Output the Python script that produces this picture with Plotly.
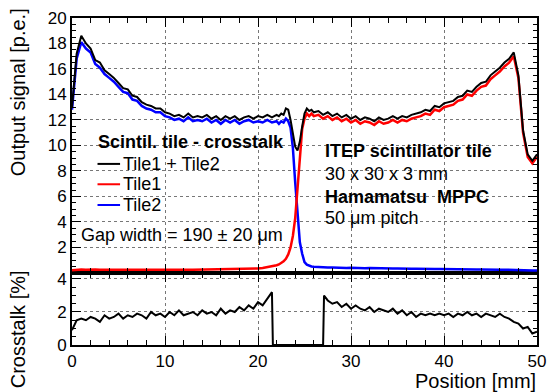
import numpy as np
import plotly.graph_objects as go

# ---------------- data ----------------
position = np.concatenate([np.arange(0, 22.01, 0.5),
                           np.arange(22.25, 26.01, 0.25),
                           np.arange(26.5, 50.01, 0.5)])

tile_sum = [13.0, 17.2, 18.6, 18.0, 17.6, 16.7, 16.5, 15.9, 15.6, 15.3, 14.9, 14.5, 14.4, 13.9,
            13.8, 13.4, 13.2, 13.1, 12.9, 12.9, 12.6, 12.5, 12.3, 12.4, 12.2, 12.5, 12.2, 12.3,
            12.2, 12.4, 12.1, 12.3, 12.0, 12.3, 12.1, 12.3, 12.0, 12.2, 12.3, 12.1, 12.3, 12.2,
            12.4, 12.2, 12.4,
            12.3, 12.5, 12.4, 12.9, 12.8, 12.0, 10.9, 9.9, 9.6, 10.3, 11.5, 12.5, 12.9, 12.7,
            12.8, 12.6,
            12.7, 12.4, 12.6, 12.3, 12.5, 12.2, 12.4, 12.1, 12.3, 12.0,
            12.2, 12.1, 11.9, 12.2, 12.0, 12.1, 12.3, 12.1, 12.3, 12.2,
            12.4, 12.5, 12.6, 12.8, 12.7, 13.1, 13.0, 13.3, 13.4, 13.5,
            13.8, 13.9, 14.3, 14.2, 14.6, 14.9, 15.0, 15.5, 15.8, 16.1,
            16.5, 16.8, 17.3, 15.5, 11.2, 9.3, 8.8, 9.3]

tile1 = [0.20, 0.24, 0.26, 0.25, 0.27, 0.26, 0.25, 0.26, 0.25, 0.24, 0.25, 0.24, 0.25, 0.24,
         0.25, 0.23, 0.24, 0.25, 0.24, 0.25, 0.24, 0.25, 0.24, 0.25, 0.24, 0.25, 0.24, 0.25,
         0.25, 0.26, 0.25, 0.26, 0.27, 0.26, 0.28, 0.27, 0.29, 0.30, 0.31, 0.33, 0.35, 0.39,
         0.44, 0.52, 0.60,
         0.66, 0.75, 0.90, 1.10, 1.45, 2.0, 2.9, 4.3, 6.6, 9.3, 11.3, 12.1, 12.5, 12.3,
         12.5, 12.3,
         12.4, 12.1, 12.3, 12.0, 12.2, 11.9, 12.1, 11.8, 12.0, 11.7,
         11.9, 11.8, 11.6, 11.9, 11.7, 11.8, 12.0, 11.8, 12.0, 11.9,
         12.1, 12.2, 12.3, 12.5, 12.4, 12.8, 12.7, 13.0, 13.1, 13.2,
         13.5, 13.6, 14.0, 13.9, 14.3, 14.6, 14.7, 15.2, 15.5, 15.8,
         16.2, 16.5, 17.0, 15.3, 11.0, 9.1, 8.6, 9.1]

tile2 = [12.8, 16.8, 18.1, 17.6, 17.3, 16.4, 16.1, 15.6, 15.3, 15.0, 14.6, 14.2, 14.1, 13.6,
         13.5, 13.1, 12.9, 12.8, 12.6, 12.6, 12.3, 12.2, 12.0, 12.1, 11.9, 12.2, 11.9, 12.0,
         11.9, 12.1, 11.8, 12.0, 11.7, 12.0, 11.8, 12.0, 11.7, 11.9, 12.0, 11.8, 11.9, 11.8,
         12.0, 11.8, 11.9,
         11.7, 11.9, 11.8, 12.1, 11.9, 11.4, 9.8, 7.1, 4.5, 2.4, 1.5, 0.85, 0.65, 0.55,
         0.50, 0.48,
         0.45, 0.44, 0.42, 0.43, 0.40, 0.41, 0.39, 0.40, 0.38, 0.39,
         0.37, 0.38, 0.36, 0.37, 0.35, 0.36, 0.34, 0.35, 0.33, 0.34,
         0.32, 0.33, 0.31, 0.32, 0.30, 0.31, 0.30, 0.29, 0.30, 0.28,
         0.29, 0.27, 0.28, 0.27, 0.26, 0.27, 0.25, 0.26, 0.25, 0.24,
         0.25, 0.23, 0.24, 0.22, 0.21, 0.20, 0.19, 0.18]

ct_position = np.concatenate([np.arange(0, 21.51, 0.5),
                              [21.6, 27.0, 27.1],
                              np.arange(27.5, 50.01, 0.5)])
crosstalk = [0.9, 1.5, 1.6, 1.5, 1.7, 1.6, 1.4, 1.8, 1.6, 1.7,
             1.9, 1.6, 1.8, 1.7, 1.9, 1.8, 1.6, 2.0, 1.8, 1.9,
             1.7, 2.0, 1.8, 2.1, 1.8, 1.9, 2.0, 1.8, 2.1, 1.9,
             2.0, 1.8, 2.2, 1.9, 2.1, 2.0, 2.3, 2.1, 2.4, 2.2,
             2.6, 2.4, 2.8, 3.2,
             0.0, 0.0, 3.0,
             2.7, 2.5, 2.6, 2.3, 2.5, 2.2, 2.4, 2.2, 2.1, 2.3,
             2.0, 2.2, 2.1, 2.0, 2.2, 1.9, 2.1, 1.8, 2.0, 1.7,
             1.9, 1.8, 1.9, 1.8, 1.9, 1.8, 1.9, 1.7, 1.9, 1.8,
             2.0, 1.8, 1.9, 1.7, 1.9, 1.8, 1.7, 1.9, 1.7, 1.6,
             1.4, 1.3, 1.0, 1.1, 0.7, 0.8]

x_ticks = [0, 10, 20, 30, 40, 50]
y_top_ticks = [2, 4, 6, 8, 10, 12, 14, 16, 18, 20]
y_bot_ticks = [0, 2, 4]

assert len(position) == len(tile_sum) == len(tile1) == len(tile2)
assert len(ct_position) == len(crosstalk)

# ---------------- figure ----------------
FONT = "Liberation Sans, Arial, Helvetica, sans-serif"
W, H = 555, 392
ML, MR, MT, MB = 72, 9, 14, 47
PW, PH = W - ML - MR, H - MT - MB
split = (345 - 272) / PH


def px(xp):
    return (xp - ML) / PW


def py(yp):
    return (H - MB - yp) / PH


fig = go.Figure()
fig.add_trace(go.Scatter(x=position, y=tile2, mode="lines", name="Tile2",
                         line=dict(color="#0000ff", width=2.5), xaxis="x2", yaxis="y2"))
fig.add_trace(go.Scatter(x=position, y=tile1, mode="lines", name="Tile1",
                         line=dict(color="#ff0000", width=2.5), xaxis="x2", yaxis="y2"))
fig.add_trace(go.Scatter(x=position, y=tile_sum, mode="lines", name="Tile1 + Tile2",
                         line=dict(color="#000000", width=2), xaxis="x2", yaxis="y2"))
fig.add_trace(go.Scatter(x=ct_position, y=crosstalk, mode="lines", name="Crosstalk",
                         line=dict(color="#000000", width=2), xaxis="x", yaxis="y"))

common = dict(showline=True, linewidth=2, linecolor="black", mirror="allticks",
              ticks="inside", ticklen=9, tickwidth=1, tickcolor="black",
              showgrid=True, gridcolor="#777777", griddash="dot", gridwidth=1,
              zeroline=False, tickfont=dict(family=FONT, size=17, color="black"))

fig.update_layout(
    width=W, height=H, autosize=False,
    margin=dict(l=ML, r=MR, t=MT, b=MB),
    paper_bgcolor="white", plot_bgcolor="white",
    showlegend=False,
    font=dict(family=FONT, color="black"),
    xaxis=dict(domain=[0, 1], anchor="y", range=[0, 50], tickvals=x_ticks,
               minor=dict(dtick=2, tick0=0, ticklen=5, ticks="inside", tickcolor="black", showgrid=False),
               **common),
    xaxis2=dict(domain=[0, 1], anchor="y2", range=[0, 50], matches="x", tickvals=x_ticks,
                showticklabels=False,
                minor=dict(dtick=2, tick0=0, ticklen=5, ticks="inside", tickcolor="black", showgrid=False),
                **common),
    yaxis=dict(domain=[0, split], anchor="x", range=[0, 4.37], tickvals=y_bot_ticks,
               minor=dict(dtick=0.5, tick0=0, ticklen=4, ticks="inside", tickcolor="black", showgrid=False),
               **common),
    yaxis2=dict(domain=[split, 1], anchor="x2", range=[0, 20], tickvals=y_top_ticks,
                minor=dict(dtick=0.5, tick0=0, ticklen=4, ticks="inside", tickcolor="black", showgrid=False),
                **common),
)

# white boxes hiding the grid behind the text blocks
fig.add_shape(type="rect", xref="paper", yref="paper", x0=px(78), x1=px(287), y0=py(216), y1=py(120),
              fillcolor="white", line=dict(width=0), layer="between")
fig.add_shape(type="rect", xref="paper", yref="paper", x0=px(327), x1=px(515), y0=py(228), y1=py(133),
              fillcolor="white", line=dict(width=0), layer="between")

# legend samples
legend_rows = [("Tile1 + Tile2", "#000000", 161.7), ("Tile1", "#ff0000", 182.3), ("Tile2", "#0000ff", 203.3)]
for label, color, yy in legend_rows:
    fig.add_shape(type="line", xref="paper", yref="paper", x0=px(98), x1=px(121), y0=py(yy), y1=py(yy),
                  line=dict(color=color, width=2), layer="above")
    fig.add_annotation(text=label, xref="paper", yref="paper", x=px(122), y=py(yy),
                       xanchor="left", yanchor="middle", showarrow=False,
                       font=dict(family=FONT, size=18, color="black"))

texts = [
    ("<b>Scintil. tile - crosstalk</b>", 96, 140),
    ("Gap width = 190 \u00b1 20 \u03bcm", 79, 233.3),
    ("<b>ITEP scintillator tile</b>", 328, 148.3),
    ("30 x 30 x 3 mm", 328, 171.7),
    ("<b>Hamamatsu\u00a0 MPPC</b>", 328, 195),
    ("50 \u03bcm pitch", 328, 216),
]
for t, xx, yy in texts:
    fig.add_annotation(text=t, xref="paper", yref="paper", x=px(xx), y=py(yy),
                       xanchor="left", yanchor="middle", showarrow=False,
                       font=dict(family=FONT, size=18, color="black"))

# axis titles
fig.add_annotation(text="Output signal [p.e.]", xref="paper", yref="paper", x=px(17), y=py(2),
                   xanchor="center", yanchor="top", textangle=-90, showarrow=False,
                   font=dict(family=FONT, size=20, color="black"))
fig.add_annotation(text="Crosstalk [%]", xref="paper", yref="paper", x=px(17), y=py(329),
                   xanchor="center", yanchor="middle", textangle=-90, showarrow=False,
                   font=dict(family=FONT, size=20, color="black"))
fig.add_annotation(text="Position [mm]", xref="paper", yref="paper", x=px(547), y=py(381),
                   xanchor="right", yanchor="middle", showarrow=False,
                   font=dict(family=FONT, size=20, color="black"))

fig.write_html("out.html")
